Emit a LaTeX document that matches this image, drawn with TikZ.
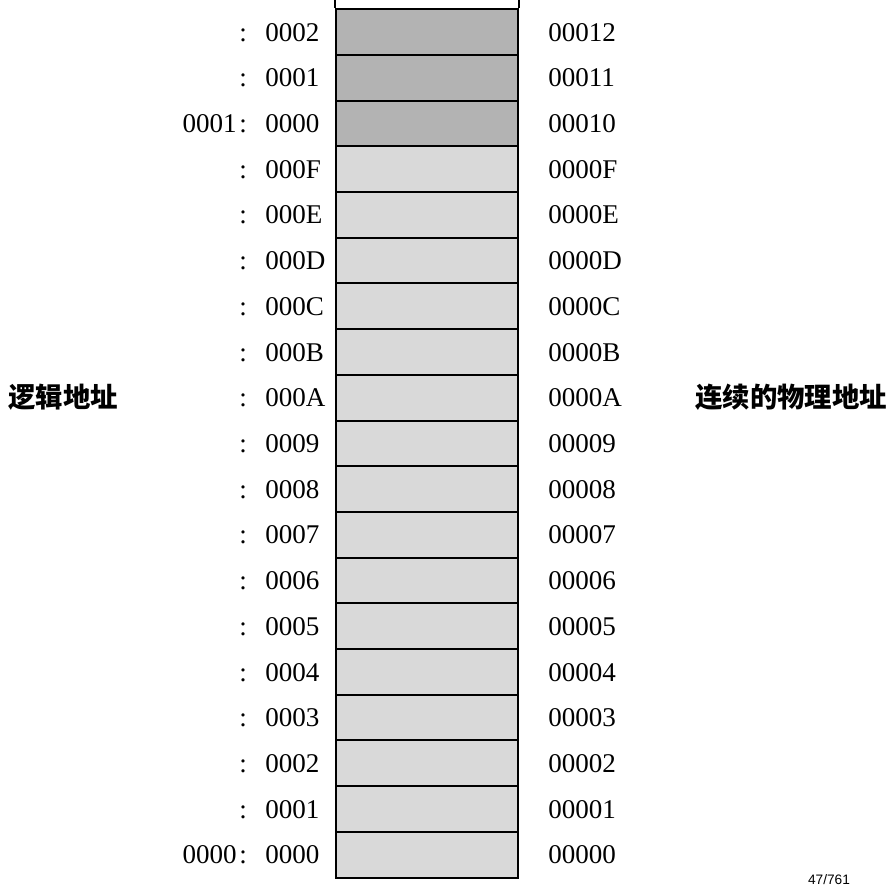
\documentclass[tikz,border=0pt]{standalone}
\usepackage{fontspec}
\setmainfont{Liberation Serif}
\newfontfamily\cjk{Noto Sans CJK SC}
\newfontfamily\pagefont{Liberation Sans}
\usetikzlibrary{positioning}
\definecolor{segdark}{HTML}{B3B3B3}
\definecolor{seglight}{HTML}{D9D9D9}

% colon with a fixed width, as in the offsets
\newcommand{\offcolon}{\makebox[0.56cm][l]{\hspace{0.04cm}:}}

\begin{document}
\begin{tikzpicture}[
    x=0.02cm, y=-0.02cm,
    cell/.style={draw, line width=0.04cm, rectangle, minimum width=3.64cm, minimum height=0.914cm, inner sep=0pt},
    addr/.style={font=\fontsize{15.4}{18}\selectfont, inner sep=0pt, text height=10.4pt, text depth=0pt, anchor=west},
    title/.style={font=\cjk\bfseries\fontsize{15.6}{18}\selectfont, inner sep=0pt, text height=11.2pt, text depth=0pt, anchor=west}
]
\useasboundingbox (0,0) rectangle (896,887);
\coordinate (top) at (0,0);

% memory cells with logical and physical addresses
\foreach \i/\lg/\ph/\fc in {0/0000/00000/seglight, 1/0001/00001/seglight, 2/0002/00002/seglight,
    3/0003/00003/seglight, 4/0004/00004/seglight, 5/0005/00005/seglight, 6/0006/00006/seglight,
    7/0007/00007/seglight, 8/0008/00008/seglight, 9/0009/00009/seglight, 10/000A/0000A/seglight,
    11/000B/0000B/seglight, 12/000C/0000C/seglight, 13/000D/0000D/seglight, 14/000E/0000E/seglight,
    15/000F/0000F/seglight, 16/0000/00010/segdark, 17/0001/00011/segdark, 18/0002/00012/segdark} {
  \node[cell, fill=\fc] (cell\i) at (426.7, {877.5-45.7*(\i+0.5)}) {};
  \node[addr] (logic\i) at ([xshift=-1.954cm]cell\i.west) {\offcolon\lg};
  \node[addr] (phys\i) at ([xshift=0.586cm]cell\i.east) {\ph};
}

% segment numbers
\node[addr, anchor=east] (seg0) at (logic0.west) {0000};
\node[addr, anchor=east] (seg1) at (logic16.west) {0001};

% column continues upwards
\draw[line width=0.04cm] (cell18.north west) -- (cell18.north west |- top);
\draw[line width=0.04cm] (cell18.north east) -- (cell18.north east |- top);

% titles
\node[title] (logtitle) at (8, 397.7) {逻辑地址};
\node[title] (phytitle) at (695, 397.7) {连续的物理地址};

% page number
\node[font=\pagefont\fontsize{7.8}{9}\selectfont, inner sep=0pt, text height=5.6pt, text depth=0pt] (page) at (829, 880) {47/761};

\end{tikzpicture}
\end{document}
